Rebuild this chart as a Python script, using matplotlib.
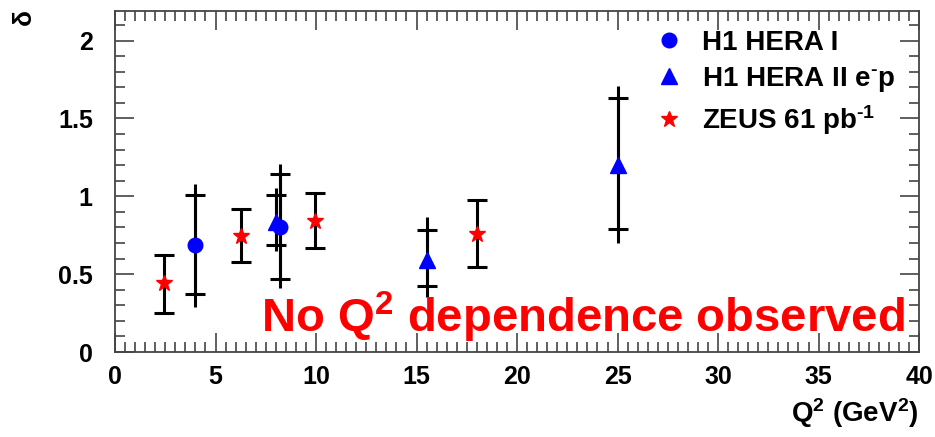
import matplotlib.pyplot as plt
from matplotlib.ticker import MultipleLocator

plt.rcParams['font.family'] = ['Liberation Sans', 'DejaVu Sans']
plt.rcParams['font.weight'] = 'bold'
plt.rcParams['mathtext.fontset'] = 'custom'
plt.rcParams['mathtext.rm'] = 'Liberation Sans:bold'
plt.rcParams['mathtext.it'] = 'Liberation Sans:bold'
plt.rcParams['mathtext.bf'] = 'Liberation Sans:bold'

# H1 HERA I
h1a_q2 = [4.0, 8.2]
h1a_d = [0.69, 0.80]
h1a_tot_lo = [0.40, 0.39]
h1a_tot_hi = [0.39, 0.405]
h1a_stat_lo = [0.32, 0.33]
h1a_stat_hi = [0.32, 0.345]

# H1 HERA II e-p
h1b_q2 = [8.0, 15.5, 25.0]
h1b_d = [0.835, 0.59, 1.20]
h1b_tot_lo = [0.185, 0.24, 0.50]
h1b_tot_hi = [0.22, 0.28, 0.51]
h1b_stat_lo = [0.15, 0.165, 0.41]
h1b_stat_hi = [0.175, 0.195, 0.43]

# ZEUS 61 pb-1
zeus_q2 = [2.45, 6.25, 9.95, 18.0]
zeus_d = [0.44, 0.745, 0.84, 0.755]
zeus_lo = [0.19, 0.165, 0.175, 0.21]
zeus_hi = [0.185, 0.17, 0.18, 0.22]

fig = plt.figure(figsize=(9.35, 4.37), dpi=100)
ax = fig.add_axes([0.123, 0.1945, 0.860, 0.7805])

ebkw = dict(fmt='none', ecolor='black', elinewidth=2.2, capthick=2.2)
# total errors (no caps), then stat errors with ticks
ax.errorbar(h1a_q2, h1a_d, yerr=[h1a_tot_lo, h1a_tot_hi], capsize=0, **ebkw)
ax.errorbar(h1a_q2, h1a_d, yerr=[h1a_stat_lo, h1a_stat_hi], capsize=7, **ebkw)
ax.errorbar(h1b_q2, h1b_d, yerr=[h1b_tot_lo, h1b_tot_hi], capsize=0, **ebkw)
ax.errorbar(h1b_q2, h1b_d, yerr=[h1b_stat_lo, h1b_stat_hi], capsize=7, **ebkw)
ax.errorbar(zeus_q2, zeus_d, yerr=[zeus_lo, zeus_hi], capsize=7, **ebkw)

ax.plot(h1a_q2, h1a_d, 'o', color='blue', ms=10.5, label='H1 HERA I', zorder=5)
ax.plot(h1b_q2, h1b_d, '^', color='blue', ms=11,
        label=r'H1 HERA II e$^{\text{-}}$p', zorder=5)
ax.plot(zeus_q2, zeus_d, '*', color='red', ms=12,
        label=r'ZEUS 61 pb$^{\text{-}1}$', zorder=5)

ax.set_xlim(0, 40)
ax.set_ylim(0, 2.19)
ax.xaxis.set_major_locator(MultipleLocator(5))
ax.xaxis.set_minor_locator(MultipleLocator(0.5))
ax.yaxis.set_major_locator(MultipleLocator(0.5))
ax.yaxis.set_minor_locator(MultipleLocator(0.1))
ax.tick_params(which='both', direction='in', top=True, right=True,
               color='#444444', width=1.2, labelsize=18)
ax.tick_params(which='major', length=14)
ax.tick_params(which='minor', length=7)
ax.tick_params(axis='x', pad=9)
ax.tick_params(axis='y', pad=16)
ax.set_xticks(range(0, 45, 5))
ax.set_xticklabels([str(v) for v in range(0, 45, 5)])
ax.set_yticks([0, 0.5, 1, 1.5, 2])
ax.set_yticklabels(['0', '0.5', '1', '1.5', '2'])
for s in ax.spines.values():
    s.set_color('#444444')
    s.set_linewidth(1.3)

ax.legend(loc='upper left', bbox_to_anchor=(0.64, 1.017), frameon=False,
          fontsize=20, handlelength=1.0, handletextpad=0.7, labelspacing=0.32,
          numpoints=1)

ax.text(0.982, 0.02, 'No Q$^{2}$ dependence observed', transform=ax.transAxes,
        color='red', fontsize=34, ha='right', va='bottom')

fig.text(0.982, 0.015, 'Q$^{2}$ (GeV$^{2}$)', fontsize=20, ha='right', va='bottom')
fig.text(0.025, 0.962, 'δ', fontsize=19, rotation=90, ha='center', va='center')

fig.savefig('out.png', dpi=100)
